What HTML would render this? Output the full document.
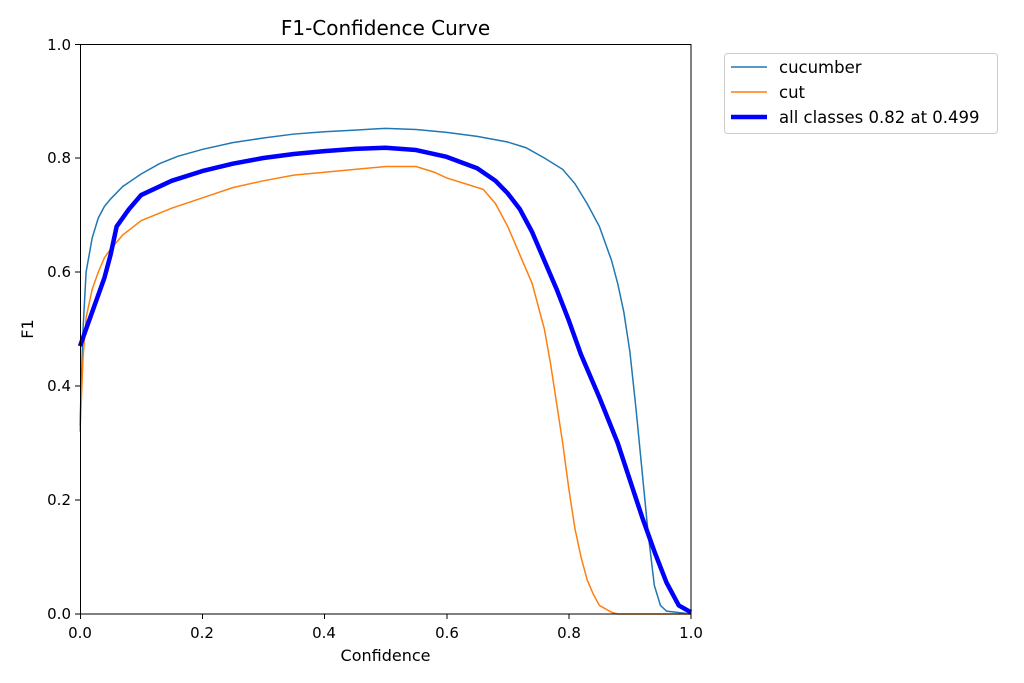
<!DOCTYPE html>
<html><head><meta charset="utf-8"><style>
body{margin:0;background:#fff}
svg{display:block;font-family:"DejaVu Sans","Liberation Sans",sans-serif}
</style></head><body>
<svg width="1024" height="683" viewBox="0 0 1024 683">
<rect width="1024" height="683" fill="#fff"/>
<text x="385.5" y="35" font-size="20" text-anchor="middle">F1-Confidence Curve</text>
<g transform="translate(80,614) scale(611,-570)" fill="none">
<polyline vector-effect="non-scaling-stroke" stroke="#1f77b4" stroke-width="1.5" points="0,0.33 0.005,0.5 0.01,0.6 0.02,0.66 0.03,0.695 0.04,0.715 0.05,0.728 0.07,0.75 0.1,0.772 0.13,0.79 0.16,0.803 0.2,0.815 0.25,0.827 0.3,0.835 0.35,0.842 0.4,0.846 0.45,0.849 0.5,0.852 0.55,0.85 0.6,0.845 0.65,0.838 0.7,0.828 0.73,0.818 0.76,0.8 0.79,0.78 0.81,0.755 0.83,0.72 0.85,0.68 0.87,0.62 0.88,0.58 0.89,0.53 0.9,0.46 0.91,0.36 0.92,0.25 0.93,0.14 0.94,0.05 0.95,0.015 0.96,0.005 1,0"/>
<polyline vector-effect="non-scaling-stroke" stroke="#ff7f0e" stroke-width="1.5" points="0,0.32 0.005,0.45 0.01,0.52 0.02,0.57 0.03,0.6 0.04,0.625 0.05,0.64 0.07,0.665 0.1,0.69 0.15,0.712 0.2,0.73 0.25,0.748 0.3,0.76 0.35,0.77 0.4,0.775 0.45,0.78 0.5,0.785 0.55,0.785 0.58,0.775 0.6,0.765 0.63,0.755 0.66,0.745 0.68,0.72 0.7,0.68 0.72,0.63 0.74,0.58 0.76,0.5 0.77,0.44 0.78,0.37 0.79,0.3 0.8,0.22 0.81,0.15 0.82,0.1 0.83,0.06 0.84,0.035 0.85,0.015 0.87,0.003 0.88,0 1,0"/>
<polyline vector-effect="non-scaling-stroke" stroke="#0000ff" stroke-width="4.5" stroke-linejoin="round" points="0,0.47 0.02,0.53 0.04,0.59 0.05,0.63 0.06,0.68 0.08,0.71 0.1,0.735 0.15,0.76 0.2,0.777 0.25,0.79 0.3,0.8 0.35,0.807 0.4,0.812 0.45,0.816 0.5,0.818 0.55,0.814 0.6,0.802 0.65,0.782 0.68,0.76 0.7,0.738 0.72,0.71 0.74,0.67 0.76,0.62 0.78,0.57 0.8,0.515 0.82,0.455 0.85,0.38 0.88,0.3 0.9,0.235 0.92,0.17 0.94,0.11 0.96,0.055 0.98,0.015 1,0.003"/>
</g>
<rect x="80.5" y="44.5" width="610.5" height="569.5" fill="none" stroke="#000" stroke-width="1"/>
<g stroke="#000" stroke-width="1">
<line x1="80.5" y1="614" x2="80.5" y2="619"/><line x1="202.5" y1="614" x2="202.5" y2="619"/><line x1="324.5" y1="614" x2="324.5" y2="619"/><line x1="447" y1="614" x2="447" y2="619"/><line x1="569" y1="614" x2="569" y2="619"/><line x1="691" y1="614" x2="691" y2="619"/>
<line x1="75" y1="614" x2="80" y2="614"/><line x1="75" y1="500" x2="80" y2="500"/><line x1="75" y1="386" x2="80" y2="386"/><line x1="75" y1="272" x2="80" y2="272"/><line x1="75" y1="158" x2="80" y2="158"/><line x1="75" y1="44.5" x2="80" y2="44.5"/>
</g>
<g font-size="15" text-anchor="middle">
<text x="80" y="638">0.0</text><text x="202" y="638">0.2</text><text x="324" y="638">0.4</text><text x="447" y="638">0.6</text><text x="569" y="638">0.8</text><text x="691" y="638">1.0</text>
</g>
<g font-size="15" text-anchor="end">
<text x="71" y="619">0.0</text><text x="71" y="505">0.2</text><text x="71" y="391">0.4</text><text x="71" y="277">0.6</text><text x="71" y="163">0.8</text><text x="71" y="50">1.0</text>
</g>
<text x="385.5" y="661" font-size="16" text-anchor="middle">Confidence</text>
<text transform="translate(33,329) rotate(-90)" font-size="16" text-anchor="middle">F1</text>
<rect x="724.5" y="53.5" width="273" height="80" rx="3" fill="#fff" stroke="#ccc"/>
<line x1="731" y1="67" x2="767" y2="67" stroke="#1f77b4" stroke-width="1.5"/>
<line x1="731" y1="92" x2="767" y2="92" stroke="#ff7f0e" stroke-width="1.5"/>
<line x1="731" y1="117" x2="767" y2="117" stroke="#0000ff" stroke-width="4.5"/>
<g font-size="16.5"><text x="779" y="73">cucumber</text><text x="779" y="98">cut</text><text x="779" y="123">all classes 0.82 at 0.499</text></g>
</svg>
</body></html>
